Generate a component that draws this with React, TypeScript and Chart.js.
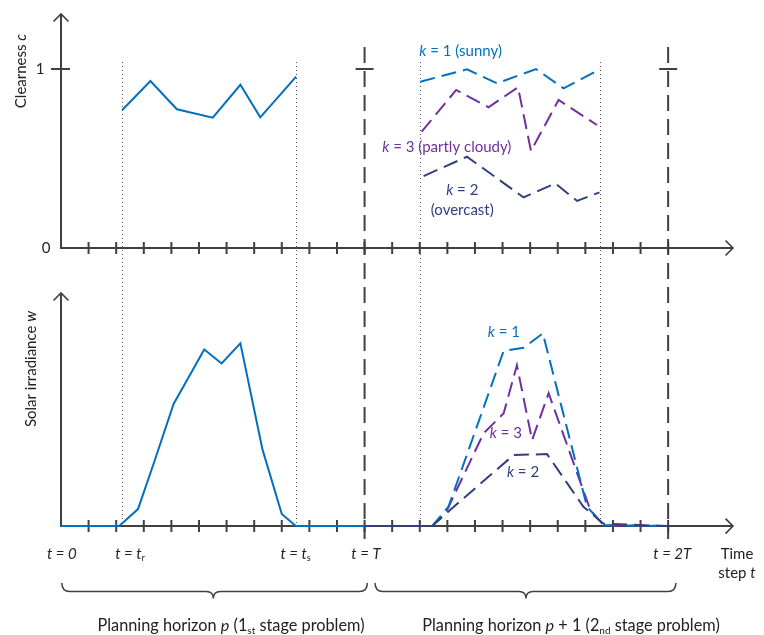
import React, { useEffect, useRef } from 'react';
import { Chart, registerables } from 'chart.js';

Chart.register(...registerables);

const FONT = 'Lato, "Open Sans", sans-serif';
const AXIS = '#404040';
const BLUE = '#0070C0';
const PURPLE = '#7030A0';
const NAVY = '#2F3F80';

// ---- Clearness c (top panel) ----
const clearT1 = [2.22, 3.24, 4.2, 5.5, 6.5, 7.22, 8.52];
const clearC1 = [0.771, 0.933, 0.775, 0.728, 0.912, 0.73, 0.957];
const clearTk1 = [13.02, 14.71, 15.8, 17.21, 18.21, 19.54];
const clearCk1 = [0.929, 0.998, 0.92, 1.0, 0.892, 1.0];
const clearTk3 = [13.07, 14.32, 15.49, 16.56, 17.03, 18.03, 19.42];
const clearCk3 = [0.65, 0.883, 0.786, 0.898, 0.542, 0.827, 0.687];
const clearTk2 = [13.14, 14.71, 16.76, 17.91, 18.7, 19.51];
const clearCk2 = [0.402, 0.51, 0.283, 0.361, 0.263, 0.311];

// ---- Solar irradiance w (bottom panel) ----
const irrT1 = [0, 2.11, 2.79, 3.38, 4.08, 5.19, 5.82, 6.5, 7.3, 8.0, 8.51, 11];
const irrW1 = [0, 0, 0.073, 0.276, 0.524, 0.758, 0.698, 0.784, 0.329, 0.052, 0, 0];
const irrTk1 = [11, 13.45, 14.04, 16.04, 16.76, 17.46, 19.06, 19.66, 22];
const irrWk1 = [0, 0, 0.083, 0.752, 0.765, 0.827, 0.083, 0.004, 0];
const irrTk3 = [11, 13.45, 13.99, 15.31, 16.04, 16.52, 17.07, 17.67, 19.18, 19.66, 22];
const irrWk3 = [0, 0, 0.069, 0.398, 0.484, 0.69, 0.369, 0.57, 0.069, 0.004, 0];
const irrTk2 = [11, 13.45, 14.1, 16.4, 17.61, 18.93, 19.66, 22];
const irrWk2 = [0, 0, 0.069, 0.305, 0.309, 0.083, 0.01, 0];

// ---- axes / guides ----
const tickT = [1, 2, 3, 4, 5, 6, 7, 8, 9, 10, 11, 12, 13, 14, 15, 16, 17, 18, 19, 20, 21, 22];
const dottedT = [2.2, 8.52, 13.02, 19.52]; // t_r, t_s, T + t_r, T + t_s
const dashedT = [11, 22]; // T, 2T

type Part = { t: string; i?: boolean; sub?: boolean };

const timeLabelT = [0.03, 2.5, 8.5, 11.05, 22.15];
const timeLabels: Part[][] = [
  [{ t: 't = 0', i: true }],
  [{ t: 't = t', i: true }, { t: 'r', sub: true }],
  [{ t: 't = t', i: true }, { t: 's', sub: true }],
  [{ t: 't = T', i: true }],
  [{ t: 't = 2T', i: true }],
];

const horizonT = [6.16, 18.48];
const horizonLabels: Part[][] = [
  [{ t: 'Planning horizon ' }, { t: 'p', i: true }, { t: ' (1' }, { t: 'st', sub: true }, { t: ' stage problem)' }],
  [{ t: 'Planning horizon ' }, { t: 'p', i: true }, { t: ' + 1 (2' }, { t: 'nd', sub: true }, { t: ' stage problem)' }],
];
const braceT = [
  [0.03, 5.52, 11.1],
  [11.38, 16.85, 22.28],
];

const topLabelT = [14.48, 13.98, 14.54, 14.54];
const topLabelC = [1.097, 0.566, 0.324, 0.212];
const topLabelColor = [BLUE, PURPLE, NAVY, NAVY];
const topLabels: Part[][] = [
  [{ t: 'k', i: true }, { t: ' = 1 (sunny)' }],
  [{ t: 'k', i: true }, { t: ' = 3 (partly cloudy)' }],
  [{ t: 'k', i: true }, { t: ' = 2' }],
  [{ t: '(overcast)' }],
];
const botLabelT = [16.05, 16.12, 16.74];
const botLabelW = [0.831, 0.399, 0.233];
const botLabelColor = [BLUE, PURPLE, NAVY];
const botLabels: Part[][] = [
  [{ t: 'k', i: true }, { t: ' = 1' }],
  [{ t: 'k', i: true }, { t: ' = 3' }],
  [{ t: 'k', i: true }, { t: ' = 2' }],
];

const SIZE = 15;
const HORIZON_SIZE = 16.3;

function fontFor(p: Part, size: number) {
  return `${p.i ? 'italic ' : ''}${p.sub ? Math.round(size * 0.62) : size}px ${FONT}`;
}

function drawRich(ctx: CanvasRenderingContext2D, parts: Part[], x: number, y: number, size: number, color: string, align: 'center' | 'left' | 'right' = 'center') {
  let w = 0;
  for (const p of parts) {
    ctx.font = fontFor(p, size);
    w += ctx.measureText(p.t).width;
  }
  let cx = align === 'center' ? x - w / 2 : align === 'right' ? x - w : x;
  ctx.fillStyle = color;
  ctx.textAlign = 'left';
  ctx.textBaseline = 'middle';
  for (const p of parts) {
    ctx.font = fontFor(p, size);
    ctx.fillText(p.t, cx, p.sub ? y + size * 0.3 : y);
    cx += ctx.measureText(p.t).width;
  }
}

function pts(xs: number[], ys: number[]) {
  return xs.map((x, i) => ({ x, y: ys[i] }));
}

const decorations = {
  id: 'decorations',
  beforeDatasetsDraw(chart: any) {
    const ctx: CanvasRenderingContext2D = chart.ctx;
    const x = chart.scales.x;
    const yT = chart.scales.yTop;
    const yB = chart.scales.yBot;
    const x0 = x.getPixelForValue(0);
    const xEnd = chart.chartArea.right;
    const topZero = yT.getPixelForValue(0);
    const topOne = yT.getPixelForValue(1);
    const botZero = yB.getPixelForValue(0);
    const topAxisTop = chart.chartArea.top;
    const botAxisTop = 293;

    ctx.save();
    // dotted guides
    ctx.strokeStyle = '#555';
    ctx.lineWidth = 1;
    ctx.setLineDash([1, 3]);
    for (const t of dottedT) {
      const px = Math.round(x.getPixelForValue(t)) + 0.5;
      ctx.beginPath();
      ctx.moveTo(px, 62);
      ctx.lineTo(px, botZero);
      ctx.stroke();
    }
    // dashed period boundaries
    ctx.strokeStyle = AXIS;
    ctx.lineWidth = 2;
    ctx.setLineDash([16, 8]);
    for (const t of dashedT) {
      const px = x.getPixelForValue(t);
      ctx.beginPath();
      ctx.moveTo(px, 47);
      ctx.lineTo(px, 539);
      ctx.stroke();
    }
    ctx.setLineDash([]);
    // cross marks at c = 1
    for (const t of dashedT) {
      const px = x.getPixelForValue(t);
      ctx.beginPath();
      ctx.moveTo(px - 9, topOne);
      ctx.lineTo(px + 9, topOne);
      ctx.stroke();
    }

    // axes
    const drawAxes = (zeroY: number, topY: number) => {
      ctx.strokeStyle = AXIS;
      ctx.lineWidth = 2;
      ctx.beginPath();
      ctx.moveTo(x0, topY);
      ctx.lineTo(x0, zeroY);
      ctx.lineTo(xEnd, zeroY);
      ctx.stroke();
      // arrows
      ctx.lineWidth = 1.6;
      ctx.beginPath();
      ctx.moveTo(x0 - 7.5, topY + 7.5);
      ctx.lineTo(x0, topY);
      ctx.lineTo(x0 + 7.5, topY + 7.5);
      ctx.moveTo(xEnd - 7.5, zeroY - 7.5);
      ctx.lineTo(xEnd, zeroY);
      ctx.lineTo(xEnd - 7.5, zeroY + 7.5);
      ctx.stroke();
      // ticks
      ctx.lineWidth = 2;
      ctx.beginPath();
      for (const t of tickT) {
        const px = x.getPixelForValue(t);
        ctx.moveTo(px, zeroY - 6);
        ctx.lineTo(px, zeroY + 6);
      }
      ctx.stroke();
    };
    drawAxes(topZero, topAxisTop);
    drawAxes(botZero, botAxisTop);
    // y tick at c = 1
    ctx.beginPath();
    ctx.moveTo(x0 - 10, topOne);
    ctx.lineTo(x0 + 9, topOne);
    ctx.stroke();

    // tick labels
    drawRich(ctx, [{ t: '1' }], 40, topOne, SIZE, '#222');
    drawRich(ctx, [{ t: '0' }], 46, topZero, SIZE, '#222');

    // axis titles
    ctx.save();
    ctx.translate(21, 71);
    ctx.rotate(-Math.PI / 2);
    drawRich(ctx, [{ t: 'Clearness ' }, { t: 'c', i: true }], 0, 0, SIZE, '#222');
    ctx.restore();
    ctx.save();
    ctx.translate(31, 369);
    ctx.rotate(-Math.PI / 2);
    drawRich(ctx, [{ t: 'Solar irradiance ' }, { t: 'w', i: true }], 0, 0, SIZE, '#222');
    ctx.restore();

    // time labels
    timeLabels.forEach((parts, i) => {
      drawRich(ctx, parts, x.getPixelForValue(timeLabelT[i]), 554, SIZE, '#222');
    });
    drawRich(ctx, [{ t: 'Time' }], 737, 554, SIZE, '#222');
    drawRich(ctx, [{ t: 'step ' }, { t: 't', i: true }], 737, 573, SIZE, '#222');

    // braces
    ctx.strokeStyle = AXIS;
    ctx.lineWidth = 1.5;
    const yEnd = 583;
    const yMid = 591.5;
    const yTip = 598.5;
    for (const [a, m, b] of braceT) {
      const xa = x.getPixelForValue(a);
      const xm = x.getPixelForValue(m);
      const xb = x.getPixelForValue(b);
      ctx.beginPath();
      ctx.moveTo(xa, yEnd);
      ctx.quadraticCurveTo(xa, yMid, xa + 8, yMid);
      ctx.lineTo(xm - 7, yMid);
      ctx.quadraticCurveTo(xm, yMid, xm, yTip);
      ctx.quadraticCurveTo(xm, yMid, xm + 7, yMid);
      ctx.lineTo(xb - 8, yMid);
      ctx.quadraticCurveTo(xb, yMid, xb, yEnd);
      ctx.stroke();
    }
    horizonLabels.forEach((parts, i) => {
      drawRich(ctx, parts, x.getPixelForValue(horizonT[i]), 626, HORIZON_SIZE, '#222');
    });

    // series labels
    topLabels.forEach((parts, i) => {
      drawRich(ctx, parts, x.getPixelForValue(topLabelT[i]), yT.getPixelForValue(topLabelC[i]), SIZE, topLabelColor[i]);
    });
    botLabels.forEach((parts, i) => {
      drawRich(ctx, parts, x.getPixelForValue(botLabelT[i]), yB.getPixelForValue(botLabelW[i]), SIZE, botLabelColor[i]);
    });
    ctx.restore();
  },
};

export default function App() {
  const ref = useRef<HTMLCanvasElement | null>(null);
  useEffect(() => {
    if (!ref.current) return;
    const dash = [15, 7];
    const line = (data: any[], color: string, axis: string, dashed: boolean) => ({
      data,
      borderColor: color,
      backgroundColor: color,
      borderWidth: 2,
      borderDash: dashed ? dash : [],
      pointRadius: 0,
      fill: false,
      tension: 0,
      clip: false,
      yAxisID: axis,
    });
    const chart = new Chart(ref.current, {
      type: 'line',
      data: {
        datasets: [
          line(pts(clearT1, clearC1), BLUE, 'yTop', false),
          line(pts(clearTk2, clearCk2), NAVY, 'yTop', true),
          line(pts(clearTk1, clearCk1), BLUE, 'yTop', true),
          line(pts(clearTk3, clearCk3), PURPLE, 'yTop', true),
          line(pts(irrT1, irrW1), BLUE, 'yBot', false),
          line(pts(irrTk2, irrWk2), NAVY, 'yBot', true),
          line(pts(irrTk1, irrWk1), BLUE, 'yBot', true),
          line(pts(irrTk3, irrWk3), PURPLE, 'yBot', true),
        ],
      },
      options: {
        animation: false,
        responsive: true,
        maintainAspectRatio: false,
        layout: { padding: { left: 61, right: 31, top: 14, bottom: 108 } },
        plugins: { legend: { display: false }, tooltip: { enabled: false } },
        scales: {
          x: { type: 'linear', min: 0, max: 24.35, display: false },
          yTop: { type: 'linear', min: -1.5587, max: 1.3073, display: false },
          yBot: { type: 'linear', min: -0.004, max: 2.1977, display: false },
        },
      },
      plugins: [decorations],
    });
    return () => chart.destroy();
  }, []);
  return (
    <div style={{ position: 'absolute', left: 0, top: 0, width: 764, height: 635, background: '#fff' }}>
      <canvas ref={ref} />
    </div>
  );
}
